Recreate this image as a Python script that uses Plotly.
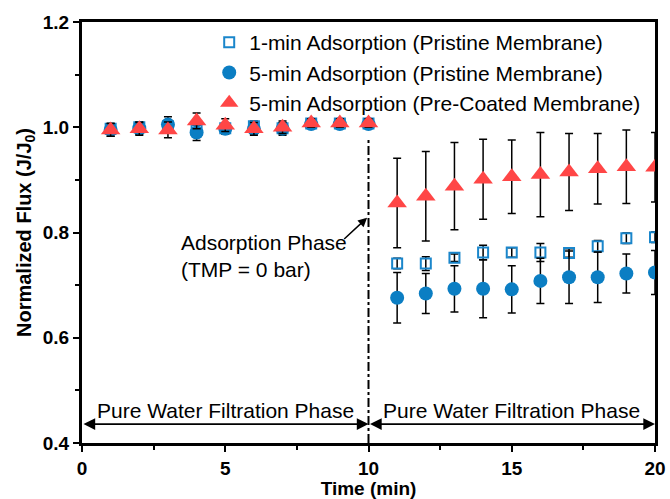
import plotly.graph_objects as go

time = [1, 2, 3, 4, 5, 6, 7, 8, 9, 10, 11, 12, 13, 14, 15, 16, 17, 18, 19, 20]

one_min = [0.997, 1.000, 1.002, 0.995, 0.998, 1.002, 0.998, 1.007, 1.007, 1.007,
           0.741, 0.741, 0.752, 0.762, 0.762, 0.762, 0.761, 0.774, 0.789, 0.791]
one_min_err = [0.010, 0.010, 0.012, 0.012, 0.010, 0.010, 0.010, 0.008, 0.008, 0.008,
               0.010, 0.013, 0.007, 0.014, 0.009, 0.017, 0.008, 0.011, 0.010, 0.010]

five_min = [0.995, 0.998, 1.005, 0.990, 0.997, 0.997, 0.997, 1.006, 1.006, 1.006,
            0.676, 0.684, 0.693, 0.693, 0.692, 0.708, 0.715, 0.715, 0.722, 0.724]
five_min_err = [0.012, 0.012, 0.015, 0.015, 0.010, 0.010, 0.012, 0.008, 0.008, 0.008,
                0.048, 0.038, 0.044, 0.055, 0.045, 0.043, 0.050, 0.048, 0.037, 0.042]

coated = [0.995, 0.997, 0.995, 1.012, 1.004, 0.997, 1.000, 1.008, 1.008, 1.008,
          0.856, 0.869, 0.888, 0.901, 0.906, 0.910, 0.915, 0.921, 0.925, 0.924]
coated_err = [0.012, 0.012, 0.015, 0.015, 0.012, 0.012, 0.012, 0.008, 0.008, 0.008,
              0.085, 0.085, 0.083, 0.076, 0.070, 0.080, 0.073, 0.067, 0.070, 0.066]

names = ["1-min Adsorption (Pristine Membrane)",
         "5-min Adsorption (Pristine Membrane)",
         "5-min Adsorption (Pre-Coated Membrane)"]

phase_label = "Pure Water Filtration Phase"
ads_label = "Adsorption Phase<br>(TMP = 0 bar)"

FONT = "Arial, Liberation Sans, sans-serif"
BLUE = "#0B7EC3"
BLUE_SQ = "#1A86CB"
RED = "#FF4646"

fig = go.Figure()

err_style = dict(type="data", color="black", thickness=1.5, width=4)

fig.add_trace(go.Scatter(
    x=time, y=one_min, name=names[0], mode="markers",
    marker=dict(symbol="square-open", size=10, color=BLUE_SQ, line=dict(width=2, color=BLUE_SQ)),
    error_y=dict(array=one_min_err, **err_style)))
fig.add_trace(go.Scatter(
    x=time, y=five_min, name=names[1], mode="markers",
    marker=dict(symbol="circle", size=14, color=BLUE, line=dict(width=0)),
    error_y=dict(array=five_min_err, **err_style)))
fig.add_trace(go.Scatter(
    x=time, y=coated, name=names[2], mode="markers",
    marker=dict(symbol="triangle-up", size=17, color=RED, line=dict(width=0)),
    error_y=dict(array=coated_err, **err_style)))

# dash-dot separator at 10 min
fig.add_shape(type="line", x0=10, x1=10, y0=0.4, y1=0.976, xref="x", yref="y",
              line=dict(color="black", width=2, dash="dashdot"))

# double arrows for phases
for x0, x1 in [(0, 10), (10, 20)]:
    fig.add_annotation(x=x1, y=0.436, ax=x0, ay=0.436, xref="x", yref="y",
                       axref="x", ayref="y", text="", showarrow=True,
                       arrowhead=2, arrowside="end+start", arrowsize=1.3,
                       arrowwidth=1.8, arrowcolor="black", standoff=0, startstandoff=0)
    fig.add_annotation(x=(x0 + x1) / 2, y=0.462, xref="x", yref="y", text=phase_label,
                       showarrow=False, font=dict(family=FONT, size=21, color="black"))

# adsorption phase label and arrow
fig.add_annotation(x=9.95, y=0.828, ax=9.1, ay=0.785, xref="x", yref="y",
                   axref="x", ayref="y", text="", showarrow=True, arrowhead=2,
                   arrowsize=1.2, arrowwidth=1.5, arrowcolor="black", standoff=0)
fig.add_annotation(x=3.4, y=0.756, xref="x", yref="y", text=ads_label, align="left",
                   xanchor="left", showarrow=False,
                   font=dict(family=FONT, size=21, color="black"))

axis_common = dict(showline=True, linewidth=3, linecolor="black", mirror=True,
                   ticks="outside", tickwidth=2, tickcolor="black", ticklen=6,
                   showgrid=False, zeroline=False,
                   tickfont=dict(family=FONT, size=19, color="black", weight="bold"))

fig.update_xaxes(range=[0, 20], tickvals=[0, 5, 10, 15, 20],
                 minor=dict(tickvals=[2.5, 7.5, 12.5, 17.5], ticks="outside", ticklen=4,
                            tickwidth=2, tickcolor="black"),
                 title=dict(text="Time (min)", standoff=2,
                            font=dict(family=FONT, size=19, color="black", weight="bold")),
                 **axis_common)
fig.update_yaxes(range=[0.4, 1.2], tickvals=[0.4, 0.6, 0.8, 1.0, 1.2], tickformat=".1f",
                 minor=dict(tickvals=[0.5, 0.7, 0.9, 1.1], ticks="outside", ticklen=4,
                            tickwidth=2, tickcolor="black"),
                 title=dict(text="Normalized Flux (J/J<sub>0</sub>)", standoff=6,
                            font=dict(family=FONT, size=20, color="black", weight="bold")),
                 **axis_common)

fig.update_layout(
    width=670, height=499,
    margin=dict(l=82, r=15, t=22, b=56, autoexpand=False),
    plot_bgcolor="white", paper_bgcolor="white",
    legend=dict(x=0.222, y=1.0, xanchor="left", yanchor="top",
                bgcolor="rgba(0,0,0,0)", borderwidth=0,
                font=dict(family=FONT, size=21, color="black"),
                itemwidth=30, tracegroupgap=0, traceorder="normal"),
    font=dict(family=FONT, color="black"),
)

fig.write_html(
    "out.html",
    config={"displayModeBar": False},
    post_script=("document.body.style.margin='0';"
                 "document.body.style.overflow='hidden';"
                 "document.documentElement.style.overflow='hidden';"),
)
